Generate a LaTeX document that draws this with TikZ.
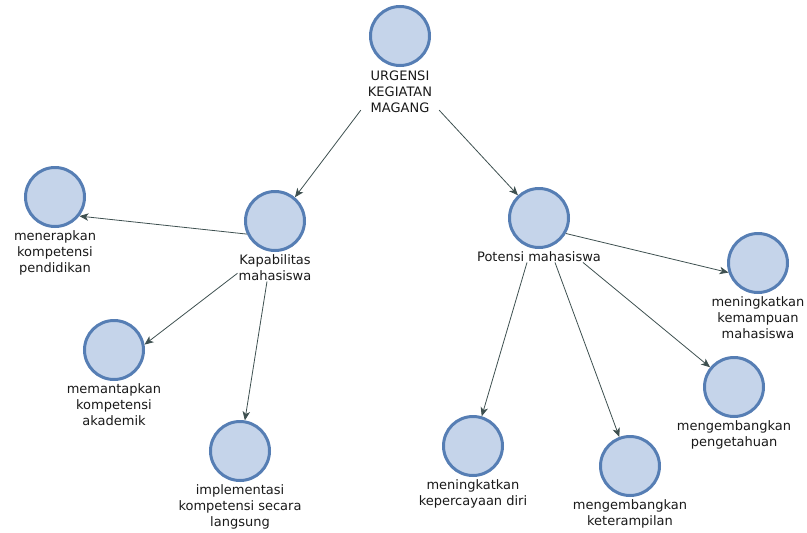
\documentclass[tikz,border=0pt]{standalone}
\usepackage{fontspec}
\setmainfont{DejaVu Sans}
\usetikzlibrary{arrows.meta,positioning}
\definecolor{konsepfill}{RGB}{197,212,234}
\definecolor{konsepline}{RGB}{86,126,180}
\definecolor{panah}{RGB}{62,80,80}
\tikzset{
  konsep/.style={circle, draw=konsepline, fill=konsepfill, line width=3pt, minimum size=59pt, inner sep=0pt},
  teks/.style={align=center, font=\fontsize{13}{16}\selectfont, inner sep=1pt, text=black!90},
  arr/.style={-{Stealth[length=9pt,width=7.5pt,inset=2.5pt]}, draw=panah, line width=0.8pt}
}

\begin{document}
\begin{tikzpicture}[x=1pt, y=-1pt, node distance=1pt]
\useasboundingbox (0,0) rectangle (807,533);
\node[konsep] (urgC) at (400,36) {};
\node[teks, below=3pt of urgC] (urgT) {URGENSI\\KEGIATAN\\MAGANG};
\node[konsep] (kapC) at (275,221) {};
\node[teks, below=of kapC] (kapT) {Kapabilitas\\mahasiswa};
\node[konsep] (potC) at (539,218) {};
\node[teks, below=of potC] (potT) {Potensi mahasiswa};
\node[konsep] (menC) at (55,197) {};
\node[teks, below=of menC] (menT) {menerapkan\\kompetensi\\pendidikan};
\node[konsep] (memC) at (114,350) {};
\node[teks, below=of memC] (memT) {memantapkan\\kompetensi\\akademik};
\node[konsep] (impC) at (240,451) {};
\node[teks, below=of impC] (impT) {implementasi\\kompetensi secara\\langsung};
\node[konsep] (kepC) at (473,446) {};
\node[teks, below=of kepC] (kepT) {meningkatkan\\kepercayaan diri};
\node[konsep] (ketC) at (630,466) {};
\node[teks, below=of ketC] (ketT) {mengembangkan\\keterampilan};
\node[konsep] (pengC) at (734,387) {};
\node[teks, below=of pengC] (pengT) {mengembangkan\\pengetahuan};
\node[konsep] (kemC) at (758,263) {};
\node[teks, below=of kemC] (kemT) {meningkatkan\\kemampuan\\mahasiswa};

\draw[arr] ([xshift=-6pt,yshift=4pt]urgT.south west) -- (kapC.50);
\draw[arr] ([xshift=6pt,yshift=4pt]urgT.south east) -- (potC);
\draw[arr] (kapC.205) -- (menC.-38);
\draw[arr] ([yshift=-6pt]kapT.west) -- (memC.10);
\draw[arr] ([xshift=-8pt]kapT.south) -- (impC);
\draw[arr] ([xshift=-12pt]potT.south) -- (kepC);
\draw[arr] ([xshift=16pt]potT.south) -- (ketC);
\draw[arr] ([xshift=44pt]potT.south) -- (pengC);
\draw[arr] (potC.-30) -- (kemC.198);
\end{tikzpicture}
\end{document}
